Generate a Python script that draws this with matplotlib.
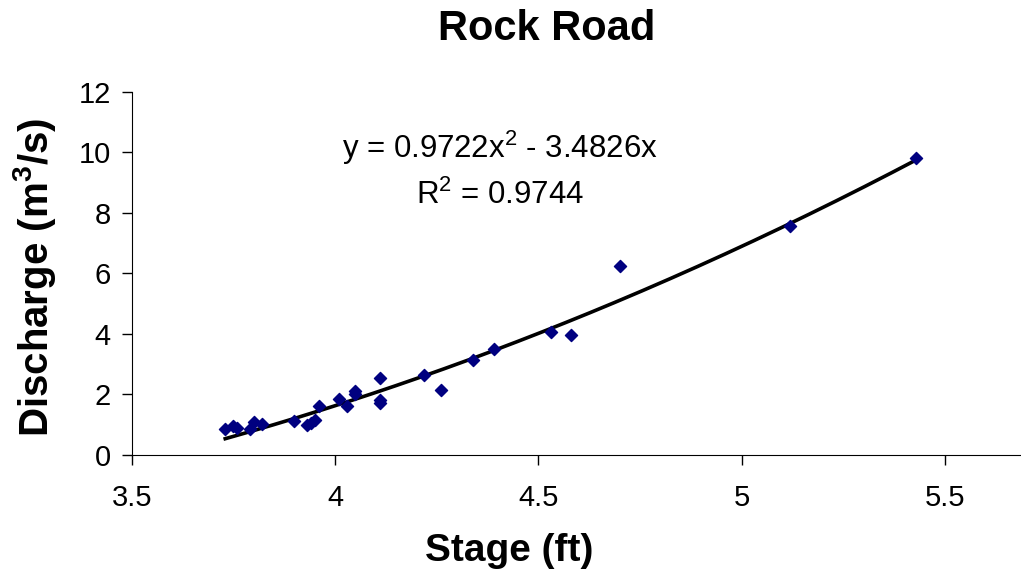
import numpy as np
import matplotlib
matplotlib.use('Agg')
import matplotlib.pyplot as plt

plt.rcParams['font.family'] = ['Liberation Sans', 'DejaVu Sans']
plt.rcParams['mathtext.fontset'] = 'custom'
plt.rcParams['mathtext.rm'] = 'Liberation Sans'
plt.rcParams['mathtext.it'] = 'Liberation Sans'
plt.rcParams['mathtext.bf'] = 'Liberation Sans:bold'

# Измерения: уровень (ft) и расход (m3/s)
stage = [3.73, 3.75, 3.76, 3.79, 3.80, 3.82, 3.90, 3.93, 3.94, 3.95, 3.96,
         4.01, 4.03, 4.05, 4.05, 4.11, 4.11, 4.11, 4.22, 4.26, 4.34, 4.39,
         4.53, 4.58, 4.70, 5.12, 5.43]
discharge = [0.85, 0.97, 0.88, 0.86, 1.08, 1.02, 1.12, 0.98, 1.06, 1.15, 1.62,
             1.85, 1.62, 2.0, 2.12, 2.55, 1.82, 1.72, 2.65, 2.15, 3.15, 3.5,
             4.05, 3.95, 6.25, 7.55, 9.82]

# Коэффициенты полиномиального тренда
a = 0.9722
b = -3.4826
r2 = 0.9744

fig = plt.figure(figsize=(10.21, 5.81), dpi=100)
ax = fig.add_axes([0.129, 0.217, 0.871, 0.625])

ax.scatter(stage, discharge, marker='D', s=38, color='#000080', zorder=3)

x = np.linspace(min(stage), max(stage), 200)
ax.plot(x, a * x**2 + b * x, color='black', lw=2.6, zorder=2)

ax.set_xlim(3.5, 5.687)
ax.set_ylim(0, 12)
ax.set_xticks([3.5, 4, 4.5, 5, 5.5])
ax.set_xticklabels(['3.5', '4', '4.5', '5', '5.5'])
ax.set_yticks(range(0, 13, 2))

for side in ['top', 'right']:
    ax.spines[side].set_visible(False)
ax.tick_params(axis='both', labelsize=21, length=7, width=1, direction='out')
ax.tick_params(axis='x', pad=14)
ax.tick_params(axis='y', pad=8)

ax.set_xlabel('Stage (ft)', fontsize=28, fontweight='bold')
ax.xaxis.set_label_coords(0.425, -0.215)
ax.set_ylabel(r'Discharge (m$^{\mathbf{3}}$/s)', fontsize=29, fontweight='bold')
ax.yaxis.set_label_coords(-0.083, 0.49)
fig.text(0.535, 0.95, 'Rock Road', fontsize=30, fontweight='bold', ha='center', va='center')

fig.text(0.49, 0.745, r'y = 0.9722x$^{2}$ - 3.4826x', fontsize=22.5, ha='center', va='center')
fig.text(0.49, 0.664, 'R$^{2}$ = ' + f'{r2:.4f}', fontsize=22.5, ha='center', va='center')

fig.savefig('out.png', dpi=100)
